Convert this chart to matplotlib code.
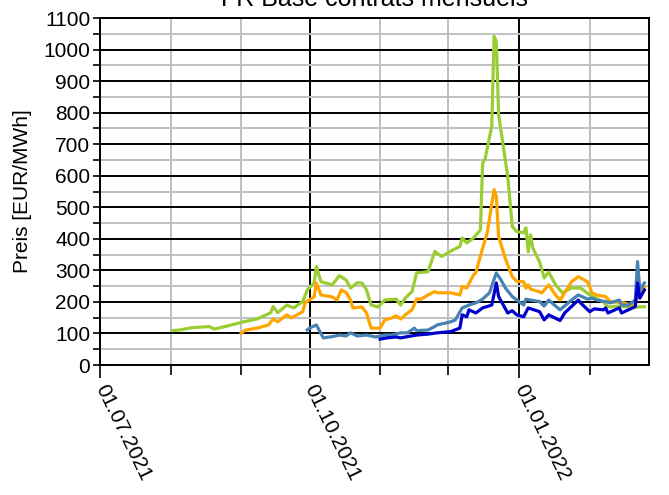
import matplotlib
matplotlib.use("Agg")
import matplotlib.pyplot as plt
import matplotlib.dates as mdates
from matplotlib.ticker import MultipleLocator
import pandas as pd

plt.rcParams['font.family'] = ['Liberation Sans', 'DejaVu Sans']

# monthly contracts
green_dates = ["2021-08-02", "2021-08-05", "2021-08-10", "2021-08-18", "2021-08-20", "2021-08-25",
               "2021-09-02", "2021-09-08", "2021-09-14", "2021-09-15", "2021-09-17", "2021-09-21",
               "2021-09-24", "2021-09-28", "2021-09-30",
               "2021-10-03", "2021-10-04", "2021-10-06", "2021-10-11", "2021-10-14", "2021-10-17",
               "2021-10-19", "2021-10-22", "2021-10-24", "2021-10-26", "2021-10-28", "2021-10-31",
               "2021-11-03", "2021-11-08", "2021-11-10", "2021-11-12", "2021-11-15", "2021-11-17",
               "2021-11-22", "2021-11-25", "2021-11-28",
               "2021-12-03", "2021-12-06", "2021-12-07", "2021-12-09", "2021-12-12", "2021-12-15",
               "2021-12-16", "2021-12-17", "2021-12-20", "2021-12-21", "2021-12-22", "2021-12-23",
               "2021-12-27", "2021-12-29", "2021-12-31",
               "2022-01-03", "2022-01-04", "2022-01-05", "2022-01-06", "2022-01-07", "2022-01-10",
               "2022-01-12", "2022-01-14", "2022-01-17", "2022-01-20", "2022-01-24", "2022-01-28",
               "2022-02-01", "2022-02-07", "2022-02-09", "2022-02-14", "2022-02-18", "2022-02-22",
               "2022-02-25"]
green_vals = [109, 111, 118, 122, 114, 122,
              137, 146, 166, 185, 166, 190, 181, 201, 238,
              260, 312, 264, 254, 283, 270, 244, 261, 260, 238, 190, 184,
              206, 209, 190, 212, 233, 292, 296, 360, 344,
              365, 376, 403, 387, 403, 428, 641, 651, 757, 1042, 1026, 794, 598, 439, 423,
              419, 435, 359, 413, 371, 327, 276, 295, 254, 229, 244, 244,
              222, 200, 184, 187, 184, 184, 185]

orange_dates = ["2021-09-01", "2021-09-03", "2021-09-08", "2021-09-13", "2021-09-15", "2021-09-17",
                "2021-09-21", "2021-09-23", "2021-09-28", "2021-09-29",
                "2021-10-03", "2021-10-04", "2021-10-06", "2021-10-11", "2021-10-13", "2021-10-15",
                "2021-10-17", "2021-10-19", "2021-10-20", "2021-10-24", "2021-10-26", "2021-10-28",
                "2021-11-01", "2021-11-03", "2021-11-06", "2021-11-08", "2021-11-10", "2021-11-12",
                "2021-11-15", "2021-11-17", "2021-11-19", "2021-11-22", "2021-11-25", "2021-11-26",
                "2021-12-02", "2021-12-06", "2021-12-07", "2021-12-09", "2021-12-12", "2021-12-13",
                "2021-12-16", "2021-12-18", "2021-12-21", "2021-12-22", "2021-12-23", "2021-12-26",
                "2021-12-29", "2021-12-31",
                "2022-01-03", "2022-01-04", "2022-01-05", "2022-01-06", "2022-01-11", "2022-01-14",
                "2022-01-17", "2022-01-19", "2022-01-24", "2022-01-27", "2022-01-31",
                "2022-02-02", "2022-02-04", "2022-02-08", "2022-02-10", "2022-02-16", "2022-02-20",
                "2022-02-23", "2022-02-25"]
orange_vals = [101, 111, 117, 127, 146, 137, 159, 149, 169, 197,
               216, 260, 222, 216, 206, 238, 230, 206, 181, 184, 165, 117,
               117, 143, 149, 156, 146, 159, 175, 209, 209, 222, 233, 229,
               229, 222, 249, 244, 286, 292, 371, 419, 556, 534, 407, 337, 280, 265,
               264, 244, 254, 241, 229, 254, 222, 206, 264, 280, 264,
               229, 222, 217, 201, 197, 187, 229, 246]

steel_dates = ["2021-09-30",
               "2021-10-01", "2021-10-04", "2021-10-07", "2021-10-11", "2021-10-14", "2021-10-17",
               "2021-10-19", "2021-10-22", "2021-10-26", "2021-10-30",
               "2021-11-03", "2021-11-06", "2021-11-10", "2021-11-13", "2021-11-16", "2021-11-17",
               "2021-11-22", "2021-11-25", "2021-11-26",
               "2021-12-02", "2021-12-04", "2021-12-07", "2021-12-10", "2021-12-13", "2021-12-16",
               "2021-12-19", "2021-12-22", "2021-12-24", "2021-12-26", "2021-12-29",
               "2022-01-03", "2022-01-04", "2022-01-06", "2022-01-10", "2022-01-12", "2022-01-14",
               "2022-01-17", "2022-01-19", "2022-01-24", "2022-01-27", "2022-01-31",
               "2022-02-02", "2022-02-04", "2022-02-08", "2022-02-10", "2022-02-14", "2022-02-15",
               "2022-02-18", "2022-02-21", "2022-02-22", "2022-02-23", "2022-02-25"]
steel_vals = [111, 117, 127, 86, 90, 95, 92, 102, 92, 95, 89,
              95, 95, 102, 102, 117, 109, 111, 122, 127,
              137, 143, 181, 190, 197, 209, 229, 292, 270, 244, 217,
              190, 209, 206, 201, 187, 206, 187, 175, 206, 222, 209,
              212, 206, 201, 197, 206, 190, 190, 206, 328, 238, 260]

blue_dates = ["2021-11-01", "2021-11-04", "2021-11-08", "2021-11-10", "2021-11-13", "2021-11-17",
              "2021-11-22", "2021-11-26",
              "2021-12-02", "2021-12-06", "2021-12-07", "2021-12-09", "2021-12-10", "2021-12-13",
              "2021-12-16", "2021-12-20", "2021-12-22", "2021-12-23", "2021-12-27", "2021-12-29",
              "2021-12-31",
              "2022-01-03", "2022-01-05", "2022-01-10", "2022-01-12", "2022-01-14", "2022-01-19",
              "2022-01-21", "2022-01-27", "2022-01-28",
              "2022-02-01", "2022-02-03", "2022-02-07", "2022-02-08", "2022-02-09", "2022-02-14",
              "2022-02-15", "2022-02-18", "2022-02-21", "2022-02-22", "2022-02-23", "2022-02-25"]
blue_vals = [82, 86, 89, 86, 90, 95, 98, 102,
             106, 117, 159, 153, 175, 165, 181, 190, 260, 217, 165, 172, 159,
             153, 181, 169, 143, 159, 141, 165, 206, 197,
             169, 178, 175, 181, 165, 181, 165, 175, 185, 260, 212, 238]

fig = plt.figure(figsize=(6.69, 4.95), dpi=100)
ax = fig.add_axes([0.1495, 0.2626, 0.8205, 0.701])

ax.plot(pd.to_datetime(green_dates), green_vals, color="#9acd32", linewidth=2.3)
ax.plot(pd.to_datetime(orange_dates), orange_vals, color="#ffa500", linewidth=2.3)
ax.plot(pd.to_datetime(steel_dates), steel_vals, color="#4682b4", linewidth=2.3)
ax.plot(pd.to_datetime(blue_dates), blue_vals, color="#0000cd", linewidth=2.3)

ax.set_xlim(pd.Timestamp("2021-07-01"), pd.Timestamp("2022-02-27"))
ax.set_ylim(0, 1100)
ax.yaxis.set_major_locator(MultipleLocator(100))
ax.yaxis.set_minor_locator(MultipleLocator(50))
ax.xaxis.set_major_locator(mdates.MonthLocator(bymonth=[1, 4, 7, 10]))
ax.xaxis.set_minor_locator(mdates.MonthLocator())
ax.xaxis.set_major_formatter(mdates.DateFormatter("%d.%m.%Y"))

ax.grid(which="minor", color="#c0c0c0", linewidth=1.4)
ax.grid(which="major", color="black", linewidth=1.4)
ax.set_axisbelow(True)
for s in ax.spines.values():
    s.set_linewidth(1.4)

ax.tick_params(axis="y", which="major", direction="inout", length=10, width=1.2, labelsize=15, pad=2)
ax.tick_params(axis="y", which="minor", direction="out", length=5, width=1.2)
ax.tick_params(axis="x", which="major", direction="out", length=9, width=1.2, labelsize=15, pad=6)
ax.tick_params(axis="x", which="minor", direction="out", length=7, width=1.2)
for lab in ax.get_xticklabels():
    lab.set_rotation(-64)
    lab.set_ha("left")
    lab.set_va("center")
    lab.set_rotation_mode("anchor")

ax.set_ylabel("Preis [EUR/MWh]", fontsize=15, labelpad=8)
ax.set_title("FR Base contrats mensuels", fontsize=18, pad=9)

fig.savefig("out.png", dpi=100)
